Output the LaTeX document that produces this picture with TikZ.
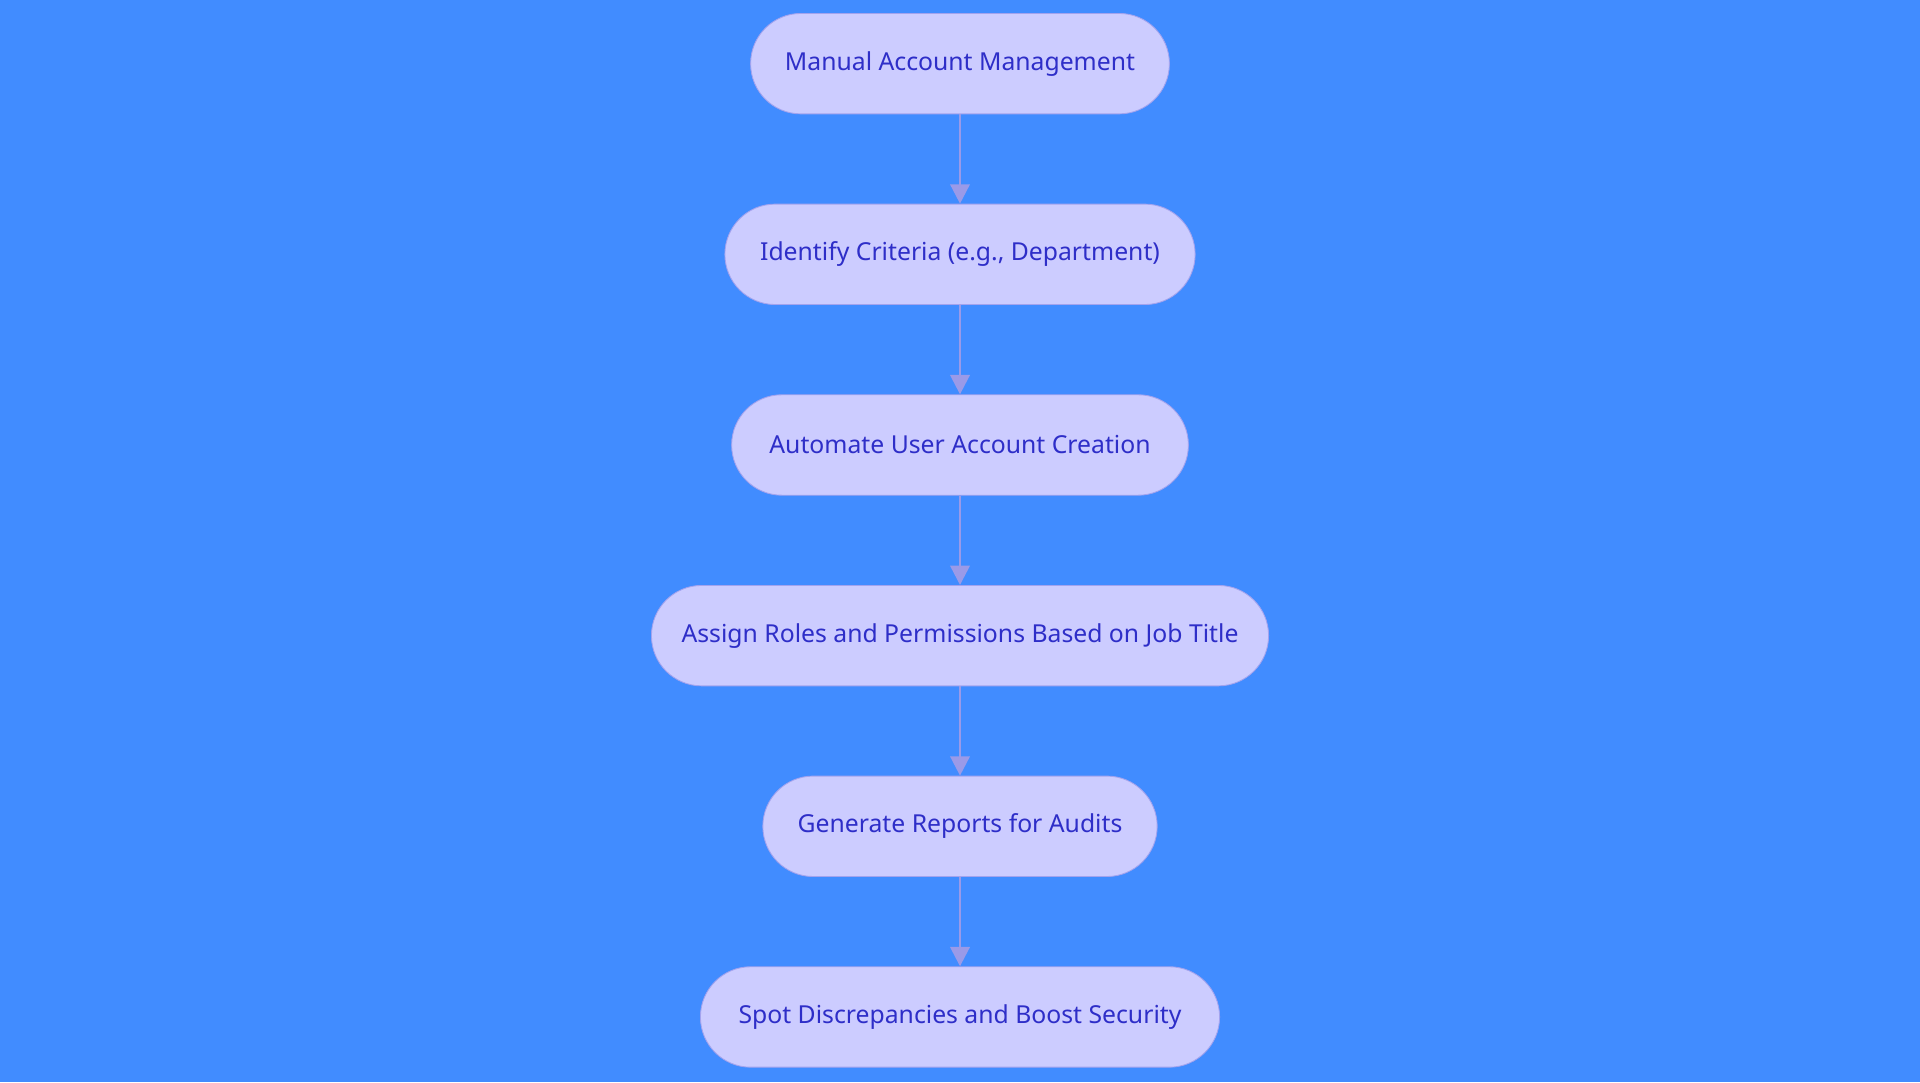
\documentclass[tikz,border=0pt]{standalone}
\usepackage{fontspec}
\setmainfont{Noto Sans}
\usetikzlibrary{positioning,arrows.meta}
\definecolor{bgblue}{HTML}{418CFF}
\definecolor{boxfill}{HTML}{CCCCFF}
\definecolor{boxline}{HTML}{A3A3EE}
\definecolor{boxtext}{HTML}{2E2EC8}
\definecolor{linkcol}{HTML}{9A9AE8}
\tikzset{
  stage/.style={draw=boxline, fill=boxfill, text=boxtext, rounded corners=0.82cm,
    minimum height=1.64cm, font=\fontsize{11.5}{14}\selectfont, inner xsep=0pt},
  link/.style={draw=linkcol, line width=1.2pt, -{Triangle[length=9pt,width=9pt]}}
}
\begin{document}
\begin{tikzpicture}[node distance=1.46cm]
      \fill[bgblue] (0,0) rectangle (31.36,-17.68);
      \useasboundingbox (0,0) rectangle (31.36,-17.68);

      \node[stage, minimum width=6.84cm] (manual) at (15.68,-1.04) {Manual Account Management};
      \node[stage, minimum width=7.68cm, below=of manual] (criteria) {Identify Criteria (e.g., Department)};
      \node[stage, minimum width=7.46cm, below=of criteria] (automate) {Automate User Account Creation};
      \node[stage, minimum width=10.08cm, below=of automate] (roles) {Assign Roles and Permissions Based on Job Title};
      \node[stage, minimum width=6.44cm, below=of roles] (reports) {Generate Reports for Audits};
      \node[stage, minimum width=8.48cm, below=of reports] (spot) {Spot Discrepancies and Boost Security};

      \draw[link] (manual) -- (criteria);
      \draw[link] (criteria) -- (automate);
      \draw[link] (automate) -- (roles);
      \draw[link] (roles) -- (reports);
      \draw[link] (reports) -- (spot);
\end{tikzpicture}
\end{document}
